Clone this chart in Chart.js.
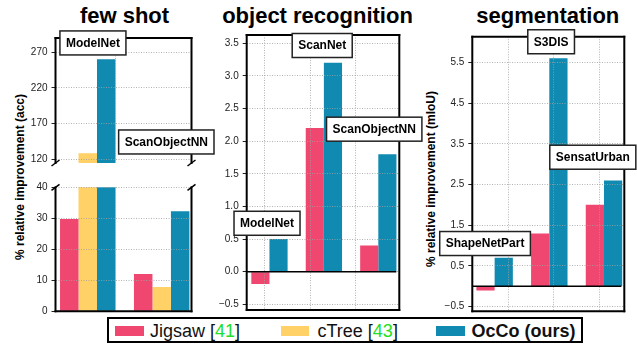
<!DOCTYPE html>
<html><head><meta charset="utf-8">
<script src="https://cdn.jsdelivr.net/npm/chart.js@4.4.1/dist/chart.umd.min.js"></script>
<style>
html,body{margin:0;padding:0;background:#fff;}
body{width:637px;height:346px;position:relative;overflow:hidden;font-family:"Liberation Sans",Arial,Helvetica,sans-serif;}
canvas{position:absolute;}
.title{position:absolute;top:5px;font-weight:bold;font-size:22px;line-height:22px;text-align:center;width:240px;color:#000;white-space:nowrap;}
.ytitle{position:absolute;font-weight:bold;font-size:12px;line-height:14px;width:300px;text-align:center;transform:rotate(-90deg);white-space:nowrap;color:#000;}
#legend{position:absolute;left:107px;top:317px;width:476px;height:26px;border:2px solid #000;box-sizing:border-box;}
.sw{position:absolute;height:10px;top:326px;}
.lt{position:absolute;font-size:18px;line-height:20px;top:320.5px;white-space:nowrap;color:#111;}
.cite{color:#22e022;}
</style></head>
<body>
<div class="title" style="left:4.5px">few shot</div>
<div class="title" style="left:197.5px">object recognition</div>
<div class="title" style="left:427.8px">segmentation</div>
<div class="ytitle" style="left:-130px;top:170px">% relative improvement (acc)</div>
<div class="ytitle" style="left:281px;top:172px">% relative improvement (mIoU)</div>
<div id="legend"></div>
<div class="sw" style="left:115px;width:29px;background:#EF476F"></div>
<div class="lt" style="left:150px">Jigsaw [<span class="cite">41</span>]</div>
<div class="sw" style="left:281px;width:28px;background:#FFD166"></div>
<div class="lt" style="left:317.5px">cTree [<span class="cite">43</span>]</div>
<div class="sw" style="left:436px;width:29px;background:#118AB2"></div>
<div class="lt" style="left:471.5px;font-weight:bold">OcCo (ours)</div>
<script>
// ---------------- data ----------------
const seriesNames = ['Jigsaw', 'cTree', 'OcCo'];

const fewShotCategories = ['ModelNet', 'ScanObjectNN'];
const fewShotJigsaw = [29.8, 12.0];
const fewShotCTree  = [128.4, 7.8];
const fewShotOcCo   = [260.0, 32.3];

const objCategories = ['ModelNet', 'ScanNet', 'ScanObjectNN'];
const objJigsaw = [-0.19, 2.2, 0.4];
const objOcCo   = [0.5, 3.2, 1.8];

const segCategories = ['ShapeNetPart', 'S3DIS', 'SensatUrban'];
const segJigsaw = [-0.1, 1.3, 2.0];
const segOcCo   = [0.7, 5.6, 2.6];

const fewShotTopTicks = [120, 170, 220, 270];
const fewShotBottomTicks = [0, 10, 20, 30, 40];
const objTicks = [-0.5, 0.0, 0.5, 1.0, 1.5, 2.0, 2.5, 3.0, 3.5];
const segTicks = [-0.5, 0.5, 1.5, 2.5, 3.5, 4.5, 5.5];

// ---------------- styling / layout ----------------
const COLORS = {Jigsaw: '#EF476F', cTree: '#FFD166', OcCo: '#118AB2'};
const FONT = '"Liberation Sans", Arial, Helvetica, sans-serif';
const GRID = 'rgba(160,160,160,0.8)';

function fmtInt(v){ return String(Math.round(v)); }
function fmt1(v){ const s = Math.abs(v).toFixed(1); return (v < -1e-9 ? '\u2212' : '') + s; }

const framePlugin = {
  id: 'frameAndNotes',
  afterDraw(chart) {
    const p = chart.options.plugins.frameAndNotes;
    const {ctx, chartArea: a, scales} = chart;
    const xs = scales.x, ys = scales.y;
    ctx.save();
    if (p.zeroLine) {
      const y0 = ys.getPixelForValue(0);
      ctx.strokeStyle = '#000'; ctx.lineWidth = 1.5;
      ctx.beginPath(); ctx.moveTo(a.left, y0); ctx.lineTo(a.right - 3, y0); ctx.stroke();
    }
    ctx.strokeStyle = '#000'; ctx.lineWidth = 2; ctx.lineCap = 'square';
    const seg = (x1,y1,x2,y2)=>{ ctx.beginPath(); ctx.moveTo(x1,y1); ctx.lineTo(x2,y2); ctx.stroke(); };
    if (p.frame.top) seg(a.left, a.top, a.right, a.top);
    if (p.frame.bottom) seg(a.left, a.bottom, a.right, a.bottom);
    if (p.frame.left) seg(a.left, a.top, a.left, a.bottom);
    if (p.frame.right) seg(a.right, a.top, a.right, a.bottom);
    if (p.breakAt) {
      const yb = p.breakAt === 'bottom' ? a.bottom : a.top;
      ctx.lineWidth = 1.5; ctx.lineCap = 'butt';
      [a.left, a.right].forEach(x => seg(x - 4, yb + 3, x + 4, yb - 3));
    }
    ctx.font = 'bold 12px ' + FONT;
    ctx.textAlign = 'center'; ctx.textBaseline = 'middle';
    (p.notes || []).forEach(n => {
      const cx = xs.getPixelForValue(n.x), cy = ys.getPixelForValue(n.y);
      const tw = ctx.measureText(n.label).width;
      const bw = tw + 12, bh = 24;
      ctx.fillStyle = '#fff';
      ctx.fillRect(cx - bw/2, cy - bh/2, bw, bh);
      ctx.strokeStyle = '#222'; ctx.lineWidth = 1.5;
      ctx.strokeRect(cx - bw/2, cy - bh/2, bw, bh);
      ctx.fillStyle = '#000';
      ctx.fillText(n.label, cx, cy + 0.5);
    });
    ctx.restore();
  }
};

function makeChart(p) {
  const yw = 40, pad = {l: 6, t: 16, r: 32, b: 10};
  const cl = Math.floor(p.area.left - yw - pad.l);
  const ct = Math.floor(p.area.top - pad.t);
  const W = Math.ceil(p.area.right + pad.r) - cl;
  const H = Math.ceil(p.area.bottom + pad.b) - ct;
  const padL = p.area.left - yw - cl;
  const padT = p.area.top - ct;
  const padR = cl + W - p.area.right;
  const padB = ct + H - p.area.bottom;
  const cv = document.createElement('canvas');
  cv.width = W; cv.height = H;
  cv.style.left = cl + 'px'; cv.style.top = ct + 'px';
  cv.style.width = W + 'px'; cv.style.height = H + 'px';
  document.body.appendChild(cv);

  const datasets = p.series.map(s => ({
    label: s.name,
    data: s.values.map((v, i) => ({x: p.xpos[i], y: v})),
    backgroundColor: COLORS[s.name],
    borderWidth: 0,
    categoryPercentage: p.catPct,
    barPercentage: 1
  }));

  return new Chart(cv, {
    type: 'bar',
    data: {datasets},
    plugins: [framePlugin],
    options: {
      responsive: false, animation: false, devicePixelRatio: 1,
      layout: {padding: {left: padL, top: padT, right: padR, bottom: padB}},
      plugins: {
        legend: {display: false}, tooltip: {enabled: false}, title: {display: false},
        frameAndNotes: {frame: p.frame, breakAt: p.breakAt, notes: p.notes, zeroLine: p.zeroLine}
      },
      scales: {
        x: {
          type: 'linear', min: p.xmin, max: p.xmax, offset: false,
          ticks: {display: false, includeBounds: false},
          afterBuildTicks: s => { s.ticks = p.xgrid.map(v => ({value: v})); },
          grid: {color: GRID, lineWidth: 1, drawTicks: false, z: 1},
          border: {display: false, dash: [1, 1.5]},
          afterFit: s => { s.height = 0; }
        },
        y: {
          type: 'linear', min: p.ymin, max: p.ymax,
          afterBuildTicks: s => { s.ticks = p.yticks.map(v => ({value: v})); },
          ticks: {autoSkip: false, font: {family: FONT, size: 10}, color: '#222', padding: 4,
                  callback: v => p.fmt(v)},
          grid: {color: GRID, lineWidth: 1, tickColor: '#222', tickLength: 4, tickWidth: 1, z: 1},
          border: {display: false, dash: [1, 1.5]},
          afterFit: s => { s.width = yw; }
        }
      }
    }
  });
}

const fewShotSeries = [
  {name: 'Jigsaw', values: fewShotJigsaw},
  {name: 'cTree', values: fewShotCTree},
  {name: 'OcCo', values: fewShotOcCo}
];

makeChart({
  area: {left: 55.5, right: 191.5, top: 38, bottom: 163},
  xmin: -0.149, xmax: 1.3225, xpos: [0.2, 1.0], xgrid: [0, 1], catPct: 0.75,
  ymin: 114.8, ymax: 289.6, yticks: fewShotTopTicks, fmt: fmtInt,
  series: fewShotSeries,
  frame: {top: true, bottom: false, left: true, right: true}, breakAt: 'bottom',
  notes: [{label: fewShotCategories[0], x: 0.256, y: 282.7},
          {label: fewShotCategories[1], x: 1.05, y: 144.2}]
});
makeChart({
  area: {left: 55.5, right: 191.5, top: 187.3, bottom: 311.3},
  xmin: -0.149, xmax: 1.3225, xpos: [0.2, 1.0], xgrid: [0, 1], catPct: 0.75,
  ymin: 0, ymax: 40, yticks: fewShotBottomTicks, fmt: fmtInt,
  series: fewShotSeries,
  frame: {top: false, bottom: true, left: true, right: true}, breakAt: 'top',
  notes: []
});
makeChart({
  area: {left: 246.7, right: 399.3, top: 35, bottom: 310},
  xmin: 0.098, xmax: 3.463, xpos: [0.6, 1.8, 3.0], xgrid: [1, 2, 3], catPct: 0.8,
  ymin: -0.587, ymax: 3.627, yticks: objTicks, fmt: fmt1, zeroLine: true,
  series: [{name: 'Jigsaw', values: objJigsaw}, {name: 'OcCo', values: objOcCo}],
  frame: {top: true, bottom: true, left: true, right: true},
  notes: [{label: objCategories[0], x: 0.546, y: 0.742},
          {label: objCategories[1], x: 1.763, y: 3.466},
          {label: objCategories[2], x: 2.91, y: 2.184}]
});
makeChart({
  area: {left: 472.3, right: 624.3, top: 36.7, bottom: 311.3},
  xmin: 0.71, xmax: 4.046, xpos: [1.2, 2.4, 3.6], xgrid: [1, 2, 3, 4], catPct: 0.8,
  ymin: -0.613, ymax: 6.129, yticks: segTicks, fmt: fmt1, zeroLine: true,
  series: [{name: 'Jigsaw', values: segJigsaw}, {name: 'OcCo', values: segOcCo}],
  frame: {top: true, bottom: true, left: true, right: true},
  notes: [{label: segCategories[0], x: 0.99, y: 1.051},
          {label: segCategories[1], x: 2.44, y: 6.005},
          {label: segCategories[2], x: 3.355, y: 3.17}]
});
</script>
</body></html>
